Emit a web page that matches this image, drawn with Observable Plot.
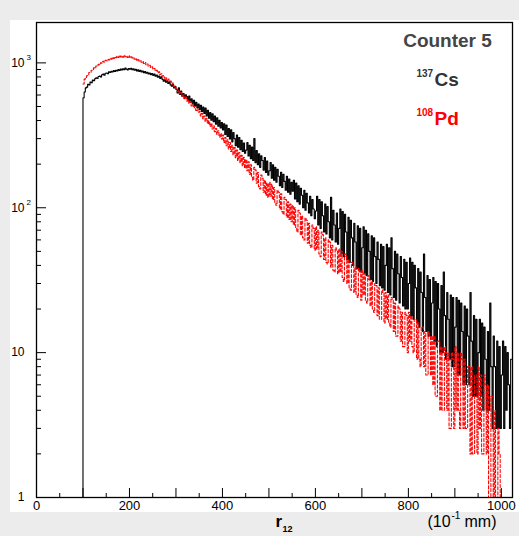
<!DOCTYPE html>
<html><head><meta charset="utf-8">
<script src="https://cdn.jsdelivr.net/npm/d3@7"></script>
<script src="https://cdn.jsdelivr.net/npm/@observablehq/plot@0.6"></script>
<style>
html,body{margin:0;padding:0;background:#ececec;width:519px;height:536px;overflow:hidden;}
#bg{position:absolute;left:10px;top:20px;width:509px;height:492px;background:#fff;}
#chart{position:absolute;left:0;top:0;}
</style></head><body>
<div id="bg"></div><div id="chart"></div>
<script>
// histogram binning (10^-1 mm)
const binStart = 100, binWidth = 2.5;
// 137Cs counts per bin, bins starting at 100, 102.5, ... (20 bins per row = 50 units)
const cs137 = [
 575,630,672,680,712,705,738,730,760,752,778,790,782,805,812,800,828,836,822,848,
 850,842,868,858,875,866,884,872,890,880,898,886,905,893,912,898,920,905,895,915,
 905,918,896,910,890,902,880,895,872,888,866,878,855,870,848,860,838,852,830,845,
 820,838,808,825,795,812,782,800,770,748,765,735,752,722,738,705,690,712,672,688,
 655,620,672,605,640,590,615,570,602,585,548,590,535,565,520,552,505,535,490,520,
 475,510,462,495,448,488,430,470,415,455,402,445,392,430,378,418,365,402,355,388,
 345,380,320,372,310,352,298,345,285,330,300,268,318,262,305,252,292,245,280,238,
 250,282,228,270,218,262,212,300,205,248,198,236,190,228,212,182,222,175,210,168,
 180,205,160,198,155,190,150,184,165,142,176,138,170,152,132,165,128,158,124,150,
 130,155,115,148,110,142,106,136,122,100,132,96,126,108,92,120,88,114,98,84,
 95,120,76,114,72,110,88,68,106,66,102,80,62,118,60,96,76,58,92,56,
 72,98,48,94,46,90,68,44,86,42,82,62,40,78,58,38,75,37,72,36,
 53,74,35,70,34,66,50,32,64,31,62,46,30,58,44,29,56,28,54,27,
 40,56,26,53,25,62,38,24,50,23,48,35,22,46,33,21,44,20,42,20,
 30,45,18,42,17,40,28,16,38,15,36,26,14,48,24,14,34,13,32,13,
 22,33,12,31,11,30,20,10,29,10,36,18,9,26,17,9,25,8,24,8,
 15,24,7,23,7,22,14,6,21,6,20,13,6,26,12,5,18,5,17,5,
 10,17,5,16,4,15,9,4,14,4,22,8,3,13,8,3,12,3,11,3,
 7,12,3,11,4,10,6,3,9
];
// 108Pd counts per bin, bins starting at 100, 102.5, ... (20 bins per row = 50 units)
const pd108 = [
 715,772,785,815,822,858,862,890,895,925,918,952,948,978,972,1002,995,1025,1012,1040,
 1035,1058,1048,1075,1062,1090,1072,1098,1085,1112,1092,1125,1100,1118,1095,1130,1102,1115,1090,1120,
 1095,1110,1080,1092,1060,1075,1045,1062,1030,1042,1010,1025,990,1005,970,982,950,962,930,938,
 905,915,880,890,855,868,832,842,808,818,785,795,760,772,738,748,712,725,690,675,
 660,632,645,610,625,590,600,565,580,545,560,525,540,505,520,490,500,470,482,455,
 462,430,448,412,430,395,415,380,398,365,382,350,368,335,352,322,340,308,325,298,
 318,282,305,268,295,255,282,245,270,232,260,222,250,212,240,205,230,195,222,188,
 215,180,208,170,198,162,155,190,182,148,175,140,135,168,160,128,155,122,148,118,
 150,120,145,114,138,108,104,132,128,98,125,94,90,118,114,86,110,83,106,80,
 104,76,100,72,68,96,92,65,88,62,60,85,82,57,78,55,53,76,72,51,
 74,52,70,48,46,68,65,44,62,42,41,60,58,39,55,37,36,53,51,35,
 52,36,50,33,31,48,46,30,44,28,27,42,41,26,39,25,24,38,36,23,
 37,25,35,23,22,34,32,21,31,20,19,30,29,18,28,17,17,27,26,16,
 26,17,25,16,15,24,23,14,22,13,13,21,20,12,19,11,11,19,18,10,
 19,12,18,11,10,17,17,9,16,9,8,15,15,8,14,7,7,14,13,7,
 13,6,13,5,5,12,12,4,11,4,4,11,10,4,10,3,3,10,9,3,
 11,4,10,4,3,10,9,3,9,3,3,8,8,2,8,2,2,7,7,2,
 8,3,7,2,2,7,6,2,6,1,1,5,5,0,4,0,0,3,2,0
];
const xMajor = [0,100,200,300,400,500,600,700,800,900,1000];
const xMinor = [50,150,250,350,450,550,650,750,850,950];
const xLabels = [0,200,400,600,800,1000];
const yMajor = [1,10,100,1000];
const yLabelBase = ["1","10","10","10"];
const yLabelExp = ["","","2","3"];
const yMinor = [2,3,4,5,6,7,8,9,20,30,40,50,60,70,80,90,200,300,400,500,600,700,800,900];

const floorVal = 0.5; // below the axis, clipped away (zero bins)
function steps(vals, fromFloor){
  const pts = fromFloor ? [{x: binStart, y: floorVal}] : [];
  vals.forEach((v,i) => pts.push({x: binStart + i*binWidth, y: v > 0 ? v : floorVal}));
  const last = vals[vals.length-1];
  pts.push({x: binStart + vals.length*binWidth, y: last > 0 ? last : floorVal});
  return pts;
}
const csSteps = steps(cs137, true), pdSteps = steps(pd108, false);

const W = 519, H = 536, mL = 36, mR = 7, mT = 22, mB = 39;
const fw = W - mL - mR, fh = H - mT - mB;
const font = "'Liberation Sans', Arial, Helvetica, sans-serif";
const T = (s, o) => Plot.text([s], {text: d => d, lineAnchor: "middle", ...o});

const chart = Plot.plot({
  width: W, height: H,
  marginLeft: mL, marginRight: mR, marginTop: mT, marginBottom: mB,
  style: {background: "transparent", fontFamily: font, color: "black", overflow: "visible"},
  x: {domain: [0, 1024], axis: null},
  y: {type: "log", domain: [1, 1900], axis: null},
  marks: [
    Plot.line(csSteps, {x: "x", y: "y", curve: "step-after", stroke: "black", strokeWidth: 1.1, clip: true}),
    Plot.line(pdSteps, {x: "x", y: "y", curve: "step-after", stroke: "#ff0000", strokeWidth: 1.1, strokeDasharray: "3,2", clip: true}),
    Plot.tickX(xMajor, {x: d => d, insetTop: fh - 9, stroke: "black"}),
    Plot.tickX(xMinor, {x: d => d, insetTop: fh - 4, stroke: "black"}),
    Plot.tickY(yMajor, {y: d => d, insetRight: fw - 10, stroke: "black"}),
    Plot.tickY(yMinor, {y: d => d, insetRight: fw - 5, stroke: "black"}),
    Plot.frame({stroke: "black", strokeWidth: 1.3}),
    Plot.axisX({ticks: xLabels, tickSize: 0, tickPadding: 3, fontSize: 13, label: null, tickFormat: d => String(d)}),
    Plot.text(yMajor, {y: d => d, text: (d, i) => yLabelBase[i], frameAnchor: "left", textAnchor: "end", dx: -12, fontSize: 12}),
    Plot.text(yMajor, {y: d => d, text: (d, i) => yLabelExp[i], frameAnchor: "left", textAnchor: "start", dx: -10, dy: -5, fontSize: 8}),
    // legend
    T("Counter 5", {frameAnchor: "top-right", dx: -65, dy: 18, textAnchor: "middle", fontSize: 19, fontWeight: "bold", fill: "#444"}),
    T("137", {frameAnchor: "top-right", dx: -96, dy: 51, textAnchor: "start", fontSize: 10, fontWeight: "bold", fill: "#333"}),
    T("Cs", {frameAnchor: "top-right", dx: -78, dy: 57, textAnchor: "start", fontSize: 19, fontWeight: "bold", fill: "#333"}),
    T("108", {frameAnchor: "top-right", dx: -96, dy: 90, textAnchor: "start", fontSize: 10, fontWeight: "bold", fill: "#ff0000"}),
    T("Pd", {frameAnchor: "top-right", dx: -78, dy: 96, textAnchor: "start", fontSize: 19, fontWeight: "bold", fill: "#ff0000"}),
    // axis title
    T("r", {frameAnchor: "bottom-left", dx: 239, dy: 24, textAnchor: "start", fontSize: 17, fontWeight: "bold"}),
    T("12", {frameAnchor: "bottom-left", dx: 246, dy: 32, textAnchor: "start", fontSize: 9, fontWeight: "bold"}),
    T("(10", {frameAnchor: "bottom-left", dx: 391, dy: 24, textAnchor: "start", fontSize: 16}),
    T("-1", {frameAnchor: "bottom-left", dx: 415, dy: 18, textAnchor: "start", fontSize: 10}),
    T("mm)", {frameAnchor: "bottom-left", dx: 428, dy: 24, textAnchor: "start", fontSize: 16})
  ]
});
document.getElementById("chart").appendChild(chart);
</script>
</body></html>
